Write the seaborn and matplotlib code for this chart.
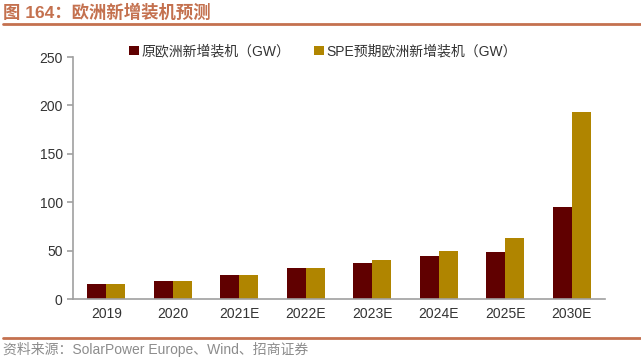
import numpy as np
import pandas as pd
import matplotlib
matplotlib.use('Agg')
import matplotlib.pyplot as plt
import seaborn as sns

# chart data
years = ['2019', '2020', '2021E', '2022E', '2023E', '2024E', '2025E', '2030E']
original_gw = [16, 19, 25, 32, 37.5, 44, 49, 95]
spe_gw = [16, 19, 25, 32, 40, 50, 63, 193]
series_names = ['原欧洲新增装机（GW）', 'SPE预期欧洲新增装机（GW）']
yticks = [0, 50, 100, 150, 200, 250]

sns.set_style('white')
plt.rcParams['font.family'] = ['Liberation Sans', 'Noto Sans CJK SC']

df = pd.DataFrame({
    'year': years * 2,
    'value': original_gw + spe_gw,
    'series': [series_names[0]] * len(years) + [series_names[1]] * len(years),
})

fig = plt.figure(figsize=(6.41, 3.59), dpi=100)
ax = fig.add_axes([0.114, 0.167, 0.830, 0.674])

palette = {series_names[0]: '#600000', series_names[1]: '#B08500'}
sns.barplot(data=df, x='year', y='value', hue='series', palette=palette,
            width=0.57, gap=0, saturation=1, edgecolor='none', ax=ax)

ax.set_ylim(0, 250)
ax.set_yticks(yticks)
ax.set_xlim(-0.5, len(years) - 0.5)
ax.set_xlabel('')
ax.set_ylabel('')

axis_col = '#A0A0A0'
for side in ['top', 'right']:
    ax.spines[side].set_visible(False)
for side in ['left', 'bottom']:
    ax.spines[side].set_color(axis_col)
    ax.spines[side].set_linewidth(1.2)

# x ticks sit between the categories
ax.set_xticks(np.arange(len(years)))
ax.set_xticklabels(years)
ax.set_xticks(np.arange(-0.5, len(years)), minor=True)
ax.tick_params(axis='x', which='major', length=0, labelsize=10, colors='#333333', pad=6)
ax.tick_params(axis='x', which='minor', length=4, color=axis_col, width=1.2, direction='out')
ax.tick_params(axis='y', length=4, color=axis_col, width=1.2, direction='out',
               labelsize=10, labelcolor='#333333', left=True)

leg = ax.legend(loc='upper left', bbox_to_anchor=(0.095, 1.075), ncol=2, frameon=False,
                fontsize=10, handlelength=0.7, handleheight=0.7, handletextpad=0.2,
                columnspacing=1.7, borderaxespad=0)
for t in leg.get_texts():
    t.set_color('#333333')

# header and footer
title_col = '#C4714F'
fig.text(0.005, 0.965, '图 164：欧洲新增装机预测', fontsize=12.5, fontweight='bold',
         color=title_col, ha='left', va='center')
fig.add_artist(plt.Line2D([0.005, 1.0], [0.933, 0.933], color=title_col, lw=2))
fig.add_artist(plt.Line2D([0.005, 1.0], [0.058, 0.058], color=title_col, lw=2))
fig.text(0.005, 0.027, '资料来源：SolarPower Europe、Wind、招商证券', fontsize=10,
         color='#8C8C8C', ha='left', va='center')

fig.savefig('out.png', dpi=100)
